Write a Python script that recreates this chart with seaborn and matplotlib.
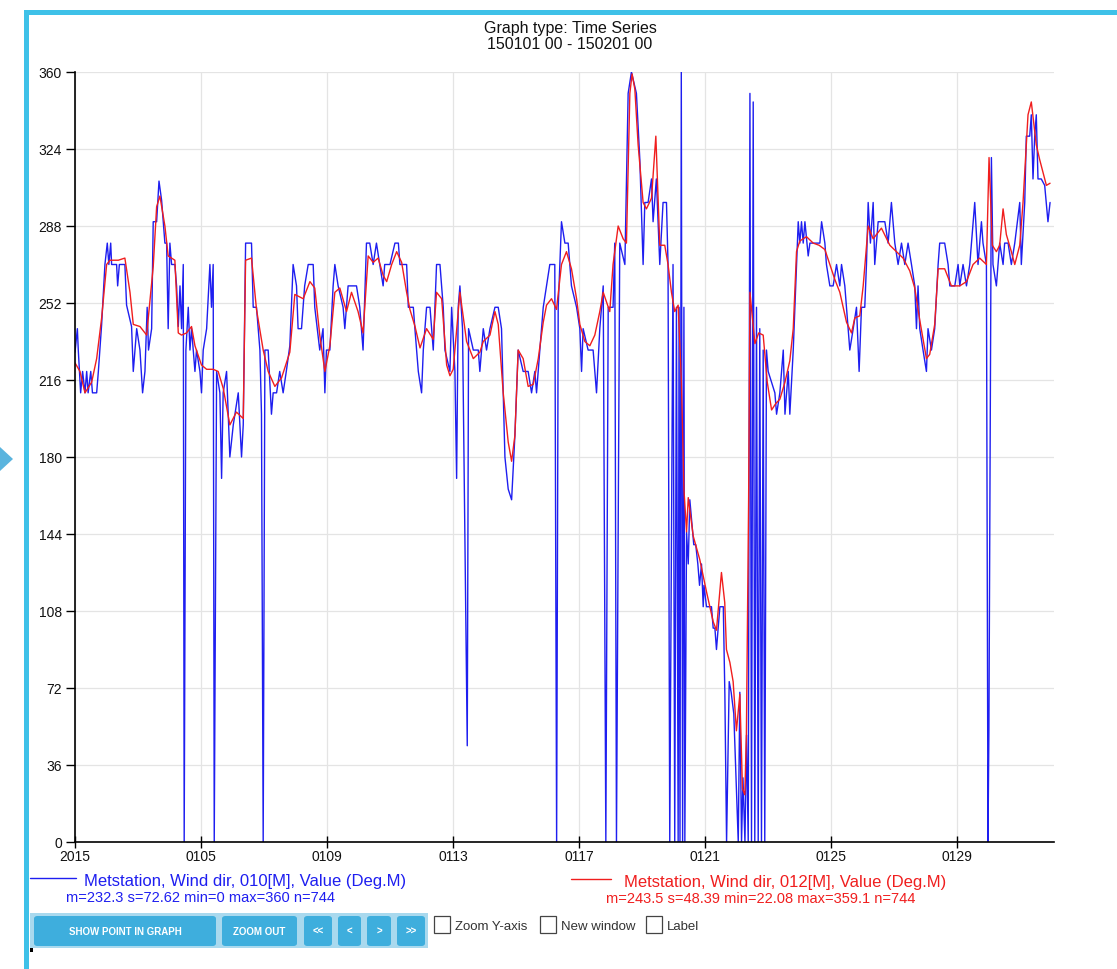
import matplotlib
matplotlib.use("Agg")
import matplotlib.pyplot as plt
from matplotlib.lines import Line2D
from matplotlib.patches import Rectangle, Polygon, FancyBboxPatch
import numpy as np
import pandas as pd
import seaborn as sns

# Hours since 2015-01-01 00:00 and wind direction (deg) – station sensor 010
blue_hours = [0, 1.8, 2.5, 4.3, 5.8, 7.6, 8.9, 10, 12, 13.3, 16.5, 17.8, 20.3, 22.8, 24.6, 25.8, 27.2, 27.9,
              31.7, 32.5, 33.8, 38, 39.3, 43.1, 44.4, 47, 49.5, 51.5, 53.3, 55, 56, 58.4, 59.6, 62.2, 64, 66,
              68.5, 69.8, 71, 72.3, 73.6, 76.1, 77.4, 78.7, 80, 81.2, 82.5, 83.2, 84.5, 86.3, 87.6, 88.8, 91.4,
              92.6, 95.2, 96.4, 97.7, 100.3, 102.8, 104, 105.3, 106.1, 107.9, 110.4, 111.7, 112.9, 115.5, 118,
              120.6, 124.4, 126.9, 128.2, 130, 134.5, 135.8, 138.3, 140.9, 142.1, 143.4, 144.7, 147.2, 149.7,
              151, 153.6, 156, 158.6, 161, 163.7, 166.2, 168.8, 170, 172.6, 175, 177.7, 181.5, 182.7, 186.5,
              189, 190.4, 191.6, 194.2, 196.7, 198, 200.5, 204.3, 205.6, 208.1, 214.5, 217, 219.5, 222.1,
              224.6, 227.2, 229.7, 232.2, 234.8, 236, 240, 243.8, 246.4, 247.6, 252.7, 254, 257.8, 259, 261.6,
              264.1, 265.4, 267.9, 270.5, 273, 275.5, 278.1, 280.6, 281.9, 285.7, 287, 289.5, 290.8, 292,
              293.3, 295.3, 298.9, 299.9, 303.5, 307.3, 308.5, 311.1, 313.6, 316.2, 320, 322.5, 325, 327.6,
              330.1, 332.7, 335.2, 337.7, 341.5, 345.3, 347.9, 350.4, 351.7, 354.2, 356.8, 359.3, 361.8,
              365.6, 367, 368.2, 370.7, 373.3, 375.8, 378.3, 382.2, 384.7, 386, 387.2, 391, 394.8, 397.4,
              399.9, 402.5, 404.5, 406.3, 410, 411.3, 412.6, 415.1, 419, 421.5, 424, 427.8, 430.4, 432.9,
              434.2, 436.7, 439.3, 440.5, 443, 445.6, 448.1, 450.7, 451.9, 453.2, 455.7, 457, 458.3, 459.6,
              460.3, 461, 462, 463, 464, 464.7, 466, 467.3, 468.5, 471.5, 473, 474.6, 475.9, 477.4, 478.7,
              479.3, 481.2, 485, 486.3, 487.6, 488.8, 490.1, 491.4, 494, 495.2, 496.5, 498.5, 500, 502,
              505.4, 506.6, 507.9, 509, 510.5, 511.7, 513, 514.3, 515.5, 516.8, 518, 519.3, 520.6, 521.8,
              523.1, 524.4, 525.6, 526.9, 528.2, 533.3, 534.6, 537.1, 539.7, 541, 543.5, 544.7, 547.3, 549.8,
              551.1, 552.3, 553.6, 554.9, 556.2, 558.7, 560, 567.6, 568.9, 571.4, 572.6, 575.2, 577.7, 580.3,
              582.8, 584.1, 586.6, 589.1, 590.4, 593, 595.5, 597.5, 599.3, 601.8, 603.1, 604.4, 606.1, 608.2,
              609.4, 612, 617.1, 619.6, 622.1, 624.7, 627.2, 629.8, 632.3, 634.8, 637.4, 639.9, 641.2, 642.4,
              643.7, 646.2, 648.8, 650, 652.6, 655.1, 657.7, 658.9, 662.7, 665.3, 666.6, 670.4, 672.9, 674.2,
              676.7, 679.3, 681.8, 685.6, 688.1, 690.7, 691.9, 694.5, 695.7, 696.4, 698.3, 699.5, 702.1,
              704.6, 707.2, 708.4, 711, 713.5, 716.1, 719.9, 721.1, 723.7, 724.9, 727.5, 728.7, 730, 731.3,
              732.5, 733.8, 736.3, 738.9, 741.4, 743]
blue_vals = [229, 240, 230, 210, 220, 210, 220, 210, 220, 210, 210, 220, 242, 270, 280, 270, 280, 270,
             270, 260, 270, 270, 251, 241, 220, 240, 230, 210, 220, 250, 230, 240, 290, 290, 309, 300,
             280, 280, 240, 280, 270, 270, 260, 241, 260, 240, 270, 0, 230, 250, 230, 240, 220,
             230, 220, 210, 230, 240, 270, 250, 270, 0, 220, 210, 170, 210, 220, 180,
             195, 210, 180, 195, 280, 280, 250, 250, 230, 200, 0, 230, 230, 200,
             210, 210, 220, 210, 220, 232, 270, 260, 240, 240, 260, 270, 270, 250, 230,
             240, 210, 230, 230, 260, 270, 260, 250, 240, 260, 260, 250, 230, 280,
             280, 270, 280, 270, 260, 270, 270, 280, 280, 270, 270, 250, 250, 240, 220,
             210, 230, 250, 250, 230, 270, 270, 250, 230, 220, 250, 220, 170, 250,
             260, 240, 45, 240, 230, 230, 220, 240, 230, 240, 250, 250, 240, 180,
             165, 160, 190, 230, 220, 220, 210, 220, 210, 230, 250, 260, 270,
             270, 0, 250, 290, 280, 280, 260, 250, 240, 220, 240, 230, 230, 210,
             240, 260, 0, 250, 250, 280, 0, 280, 270, 350, 360, 350, 319, 270,
             299, 299, 310, 290, 310, 270, 299, 299, 270, 0, 270, 0, 250, 0,
             250, 0, 360, 0, 250, 0, 145, 130, 160, 139, 139, 130, 120, 130, 110,
             120, 110, 110, 100, 100, 90, 100, 110, 110, 69, 0, 75, 70, 60,
             0, 70, 0, 30, 0, 50, 0, 350, 0, 346, 0, 250, 0, 240,
             0, 230, 0, 230, 220, 210, 200, 210, 230, 200, 220, 200, 230, 270,
             290, 280, 290, 280, 290, 274, 280, 280, 290, 280, 270, 260, 260, 270,
             260, 270, 260, 240, 230, 240, 250, 220, 250, 250, 270, 299, 280, 299,
             270, 290, 290, 280, 299, 280, 270, 280, 270, 280, 270, 260, 240, 260,
             240, 230, 220, 240, 230, 240, 270, 280, 280, 270, 260, 260, 270, 260,
             270, 260, 270, 299, 270, 290, 280, 270, 0, 52, 320, 270, 260,
             280, 270, 280, 280, 270, 280, 299, 270, 299, 330, 330, 340, 310, 330,
             340, 310, 310, 307, 290, 299]

# Hours since 2015-01-01 00:00 and wind direction (deg) – station sensor 012
red_hours = [0, 3.8, 7.6, 12.7, 16.5, 20.3, 24.1, 26.6, 33, 38, 41.9, 44.4, 49.5, 54.6, 59.6, 62.2, 64.7,
             68.5, 71, 76.1, 78.7, 81.2, 85, 88.8, 91.4, 96.4, 100.3, 105.3, 109.1, 113, 118, 123, 128.2,
             130, 134.5, 138.3, 143.4, 147.2, 152.3, 157.4, 163.7, 167.5, 173.9, 179, 182.7, 186.5, 190.4,
             194.2, 198, 201.8, 206.9, 210.7, 215.7, 219.5, 223.4, 227.2, 231, 234.8, 237.5, 241.3, 245.1,
             248.9, 252.7, 255.2, 259.1, 262.9, 267.9, 273, 275.5, 279.4, 283.2, 285.7, 288.2, 293.3, 298.4,
             303.5, 308.5, 311.1, 316.2, 320, 322.5, 326.3, 330.1, 332.7, 335.2, 337.7, 341.5, 345.3, 349.2,
             353, 356.8, 359.3, 363.1, 366.9, 370.7, 374.5, 378.3, 382.2, 384.7, 388.5, 392.3, 396.1, 399.9,
             402.5, 407.5, 410, 413.9, 417.7, 420.2, 422.8, 424.5, 426.6, 429.1, 432.9, 435.4, 439.3, 442.6,
             445.6, 449.4, 451.9, 454.5, 457, 459.6, 462.1, 464, 466, 467.3, 471.1, 476.1, 481.2, 486.3,
             488.8, 491.3, 492.6, 495.1, 496.4, 499, 501.5, 504, 506.6, 508.6, 510.4, 511.6, 513.3, 514.3,
             518.1, 521, 524.4, 527.5, 530.8, 534, 537.1, 541, 544.7, 547.3, 549.8, 552.3, 557.4, 562.5,
             567, 571.4, 575.2, 579, 582.8, 587.9, 591.7, 594.2, 598, 600.6, 604.4, 608.2, 614.5, 620.9,
             626, 631, 636.1, 639.9, 643.7, 648.8, 651.3, 655.1, 657.7, 662.7, 667.8, 674.2, 679.3, 684.3,
             689.4, 694.5, 696.5, 699, 702.1, 704.6, 707.2, 709.7, 713.5, 716.1, 719.9, 722.4, 726.2, 728.7,
             732.5, 735.1, 740.2, 743]
red_vals = [224, 220, 210, 215, 226, 245, 270, 272, 272, 273, 257, 242, 241, 237, 269, 297, 302,
            288, 274, 272, 238, 237, 238, 241, 232, 223, 221, 221, 220, 212, 195, 201, 198,
            272, 273, 249, 230, 220, 213, 217, 229, 256, 254, 262, 259, 237, 220,
            232, 257, 259, 248, 257, 248, 238, 274, 271, 273, 265, 262, 270, 276,
            271, 257, 249, 241, 231, 240, 235, 257, 254, 223, 218, 221, 257, 234,
            226, 229, 234, 237, 248, 242, 210, 187, 178, 190, 230, 226, 213, 214,
            226, 243, 251, 254, 249, 270, 276, 268, 254, 242, 234, 232, 237, 248,
            257, 248, 270, 288, 282, 280, 350, 359.1, 352, 326, 299, 296, 301, 330,
            279, 279, 270, 257, 248, 251, 215, 165, 145, 161, 143, 132, 117, 103,
            99, 117, 126, 112, 90, 84, 75, 52, 69, 25, 22.08, 50, 160, 257,
            233, 238, 237, 215, 202, 205, 207, 215, 225, 240, 276, 281, 283, 280,
            279, 277, 270, 263, 257, 243, 238, 245, 246, 260, 288, 282, 287, 279,
            276, 273, 267, 259, 244, 226, 228, 242, 268, 268, 260, 260, 262, 270,
            273, 270, 320, 279, 276, 279, 296, 284, 276, 270, 279, 299, 340, 346,
            326, 319, 307, 308]

x_tick_hours = [0, 96, 192, 288, 384, 480, 576, 672]
x_tick_labels = ["2015", "0105", "0109", "0113", "0117", "0121", "0125", "0129"]
y_ticks = list(range(0, 361, 36))

blue_label = "Metstation, Wind dir, 010[M], Value (Deg.M)"
blue_stats = "m=232.3 s=72.62 min=0 max=360 n=744"
red_label = "Metstation, Wind dir, 012[M], Value (Deg.M)"
red_stats = "m=243.5 s=48.39 min=22.08 max=359.1 n=744"
buttons = ["SHOW POINT IN GRAPH", "ZOOM OUT", "<<", "<", ">", ">>"]
checkboxes = ["Zoom Y-axis", "New window", "Label"]

BLUE = "#1e1ef0"
RED = "#f01e1e"
CYAN = "#3ec1e8"

sns.set_theme(style="white")
plt.rcParams["font.family"] = ["Liberation Sans", "DejaVu Sans"]

W, H = 1117, 970
fig = plt.figure(figsize=(W / 100, H / 100), dpi=100)
fig.patch.set_facecolor("white")


def fx(px):
    return px / W


def fy(py):
    return 1 - py / H


ax = fig.add_axes([fx(75), fy(843), fx(1054) - fx(75), fy(73) - fy(843)])
ax.set_facecolor("white")

df_blue = pd.DataFrame({"hour": blue_hours, "deg": blue_vals})
df_red = pd.DataFrame({"hour": red_hours, "deg": red_vals})
sns.lineplot(data=df_blue, x="hour", y="deg", ax=ax, color=BLUE, linewidth=1.0,
             estimator=None, sort=False, legend=False)
sns.lineplot(data=df_red, x="hour", y="deg", ax=ax, color=RED, linewidth=1.0,
             estimator=None, sort=False, legend=False)

ax.set_xlim(0, 746)
ax.set_ylim(0, 360)
ax.set_xticks(x_tick_hours)
ax.set_xticklabels(x_tick_labels)
ax.set_yticks(y_ticks)
ax.set_yticklabels([str(v) for v in y_ticks])
ax.set_xlabel("")
ax.set_ylabel("")
ax.grid(True, color="#e4e4e4", linewidth=0.9)
ax.set_axisbelow(True)
for side in ("top", "right"):
    ax.spines[side].set_visible(False)
for side in ("left", "bottom"):
    ax.spines[side].set_color("black")
    ax.spines[side].set_linewidth(1.2)
ax.tick_params(axis="y", direction="out", length=6.5, width=1.0, color="black",
               labelsize=10, pad=3, labelcolor="#111111", left=True)
ax.tick_params(axis="x", direction="inout", length=8, width=1.0, color="black",
               labelsize=10, pad=1, labelcolor="#111111", bottom=True)

# page frame
fig.add_artist(Rectangle((fx(24), fy(970)), fx(29) - fx(24), fy(11) - fy(970),
                         transform=fig.transFigure, color=CYAN, lw=0))
fig.add_artist(Rectangle((fx(24), fy(16)), 1 - fx(24), fy(11) - fy(16),
                         transform=fig.transFigure, color=CYAN, lw=0))
fig.add_artist(Polygon([(fx(0), fy(448)), (fx(13), fy(460)), (fx(0), fy(472))],
                       closed=True, transform=fig.transFigure, color="#5ab4de", lw=0))

# title
fig.text(fx(570), fy(33), "Graph type: Time Series", ha="center", va="baseline",
         fontsize=11.5, color="#111111")
fig.text(fx(570), fy(49), "150101 00 - 150201 00", ha="center", va="baseline",
         fontsize=11.5, color="#111111")

# series captions
fig.add_artist(Line2D([fx(30), fx(76)], [fy(879), fy(879)], transform=fig.transFigure,
                      color=BLUE, lw=1.0))
fig.text(fx(84), fy(886), blue_label, ha="left", va="baseline", fontsize=12, color=BLUE)
fig.text(fx(66), fy(902), blue_stats, ha="left", va="baseline", fontsize=10.5, color=BLUE)
fig.add_artist(Line2D([fx(571), fx(611)], [fy(880), fy(880)], transform=fig.transFigure,
                      color=RED, lw=1.0))
fig.text(fx(624), fy(887), red_label, ha="left", va="baseline", fontsize=12, color=RED)
fig.text(fx(606), fy(903), red_stats, ha="left", va="baseline", fontsize=10.5, color=RED)

# button bar
fig.add_artist(Rectangle((fx(30), fy(949)), fx(428) - fx(30), fy(914) - fy(949),
                         transform=fig.transFigure, color="#a9d9ee", lw=0))
btn_spans = [(34, 216), (222, 297), (304, 332), (338, 361), (367, 391), (397, 425)]
for label, (x0, x1) in zip(buttons, btn_spans):
    fig.add_artist(FancyBboxPatch((fx(x0), fy(947)), fx(x1) - fx(x0), fy(917) - fy(947),
                                  boxstyle="round,pad=0,rounding_size=0.003",
                                  transform=fig.transFigure, facecolor="#3eaedd",
                                  edgecolor="none"))
    fig.text(fx((x0 + x1) / 2), fy(932), label, ha="center", va="center",
             fontsize=7, fontweight="bold", color="white")

box_pos = [434, 540, 646]
for label, bx in zip(checkboxes, box_pos):
    fig.add_artist(Rectangle((fx(bx), fy(934)), fx(bx + 16) - fx(bx), fy(917) - fy(934),
                             transform=fig.transFigure, facecolor="white",
                             edgecolor="#444444", lw=0.9))
    fig.text(fx(bx + 21), fy(930), label, ha="left", va="baseline", fontsize=9.5,
             color="#333333")

fig.add_artist(Rectangle((fx(30), fy(953)), fx(33) - fx(30), fy(949) - fy(953),
                         transform=fig.transFigure, color="black", lw=0))

fig.savefig("out.png", dpi=100)
